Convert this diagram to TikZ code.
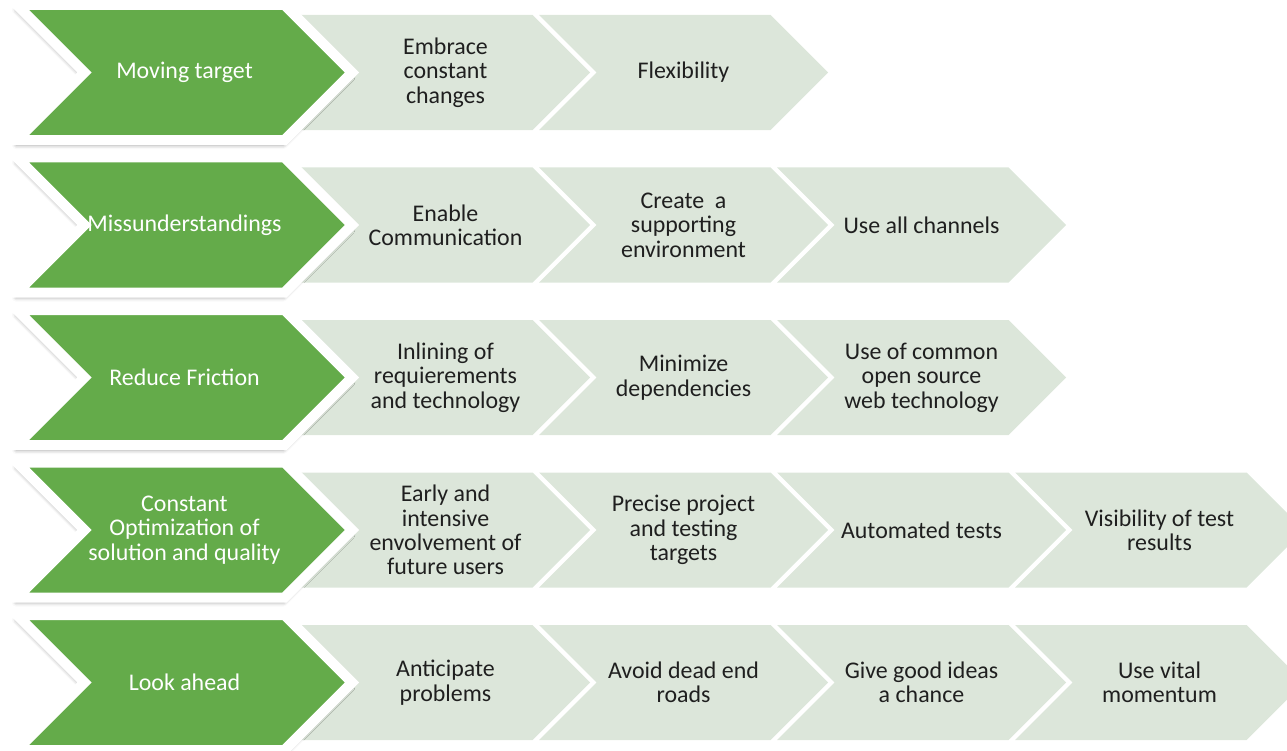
\documentclass[tikz,border=0pt]{standalone}
\usepackage{fontspec}
\setmainfont{Carlito}
\usetikzlibrary{shapes.symbols,shadows.blur,positioning}

\definecolor{leafgreen}{RGB}{100,171,74}
\definecolor{palegreen}{RGB}{220,230,218}

\tikzset{
  chev/.style={signal, signal from=west, signal to=east, signal pointer angle=90,
               inner sep=0pt, align=center, font=\fontsize{24}{24.5}\selectfont},
  head/.style={chev, fill=leafgreen, draw=white, line width=10bp, text=white,
               minimum width=335bp, minimum height=135bp,
               blur shadow={shadow xshift=-1bp, shadow yshift=-5bp,
                            shadow blur radius=4bp, shadow opacity=40}},
  task/.style={chev, fill=palegreen, text=black!88,
               minimum width=289bp, minimum height=115bp},
}

\begin{document}
\begin{tikzpicture}[x=1bp,y=-1bp,node distance=238bp]
  \useasboundingbox (0,0) rectangle (1287,751);

  % row 1
  \node[task] (embrace) at (445.5,72.5) {Embrace\\constant\\changes};
  \node[task] (flex)    [right of=embrace] {Flexibility};
  \node[head] (moving)  at (184.5,72.5) {Moving target};

  % row 2
  \node[task] (enable)   at (445.5,225) {Enable\\Communication};
  \node[task] (create)   [right of=enable] {Create~ a\\supporting\\environment};
  \node[task] (channels) [right of=create] {Use all channels};
  \node[head] (misunder) at (184.5,225) {Missunderstandings};

  % row 3
  \node[task] (inlining) at (445.5,377.5) {Inlining of\\requierements\\and technology};
  \node[task] (minimize) [right of=inlining] {Minimize\\dependencies};
  \node[task] (common)   [right of=minimize] {Use of common\\open source\\web technology};
  \node[head] (friction) at (184.5,377.5) {Reduce Friction};

  % row 4
  \node[task] (early)    at (445.5,530) {Early and\\intensive\\envolvement of\\future users};
  \node[task] (precise)  [right of=early] {Precise project\\and testing\\targets};
  \node[task] (autotest) [right of=precise] {Automated tests};
  \node[task] (visible)  [right of=autotest] {Visibility of test\\results};
  \node[head] (optim)    at (184.5,530) {Constant\\Optimization of\\solution and quality};

  % row 5
  \node[task] (anticipate) at (445.5,682.5) {Anticipate\\problems};
  \node[task] (deadend)    [right of=anticipate] {Avoid dead end\\roads};
  \node[task] (ideas)      [right of=deadend] {Give good ideas\\a chance};
  \node[task] (momentum)   [right of=ideas] {Use vital\\momentum};
  \node[head] (ahead)      at (184.5,682.5) {Look ahead};
\end{tikzpicture}
\end{document}
